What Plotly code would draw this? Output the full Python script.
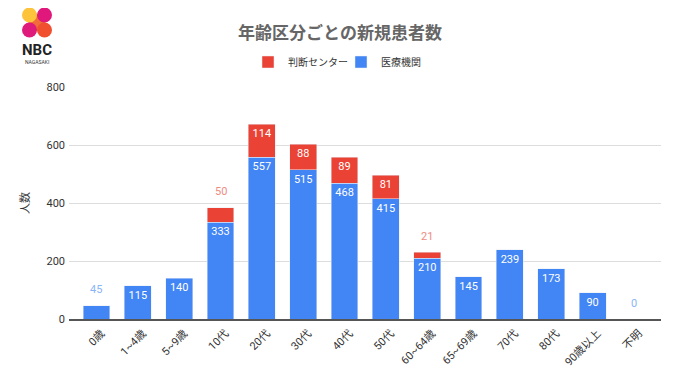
import plotly.graph_objects as go

categories = ["0歳", "1~4歳", "5~9歳", "10代", "20代", "30代", "40代", "50代",
              "60~64歳", "65~69歳", "70代", "80代", "90歳以上", "不明"]
iryo = [45, 115, 140, 333, 557, 515, 468, 415, 210, 145, 239, 173, 90, 0]
handan = [None, None, None, 50, 114, 88, 89, 81, 21, None, None, None, None, None]
y_ticks = [0, 200, 400, 600, 800]

BLUE = "#4285F4"
RED = "#EA4335"
BLUE_LABEL = "#8AB4F8"
RED_LABEL = "#EE8C83"
FONT = "Roboto, Noto Sans CJK JP, sans-serif"
SMALL = 60  # segments below this show their label above the bar

OFF = 8  # page body margin
W, H = 680 - OFF, 382 - OFF
P_LEFT, P_RIGHT, P_TOP, P_BOTTOM = 69, 661, 87, 319  # target page pixels
ML = P_LEFT - OFF
MT = P_TOP - OFF
MR = W - (P_RIGHT - OFF)
MB = H - (P_BOTTOM - OFF)
PW, PH = W - ML - MR, H - MT - MB


def px(x):
    return (x - P_LEFT) / PW


def py(y):
    return (P_BOTTOM - y) / PH


fig = go.Figure()
fig.add_trace(go.Bar(
    x=categories, y=iryo, name="医療機関", marker_color=BLUE,
    text=["" if v < SMALL else str(v) for v in iryo],
    textposition="inside", insidetextanchor="end",
    insidetextfont=dict(color="white", size=11, family=FONT),
    textangle=0, cliponaxis=False,
))
fig.add_trace(go.Bar(
    x=categories, y=handan, name="判断センター", marker_color=RED,
    text=["" if (v is None or v < SMALL) else str(v) for v in handan],
    textposition="inside", insidetextanchor="end",
    insidetextfont=dict(color="white", size=11, family=FONT),
    textangle=0, cliponaxis=False,
))

annotations = []
# small segments: label placed above the stack top
for cat, b, r in zip(categories, iryo, handan):
    if r is not None and r < SMALL:
        annotations.append(dict(x=cat, y=b + r, text=str(r), showarrow=False,
                                yshift=16, yanchor="middle", xref="x", yref="y",
                                font=dict(size=11, color=RED_LABEL, family=FONT)))
    elif r is None and b < SMALL:
        annotations.append(dict(x=cat, y=b, text=str(b), showarrow=False,
                                yshift=16, yanchor="middle", xref="x", yref="y",
                                font=dict(size=11, color=BLUE_LABEL, family=FONT)))

shapes = []


def circle(cx, cy, r, color):
    return dict(type="circle", xref="paper", yref="paper",
                x0=px(cx - r), x1=px(cx + r), y0=py(cy + r), y1=py(cy - r),
                fillcolor=color, line=dict(width=0), layer="above")


shapes.append(dict(type="line", xref="paper", yref="paper",
                   x0=px(29.5), y0=py(15), x1=px(44.5), y1=py(30),
                   line=dict(color="#F26B3A", width=12), layer="above"))
shapes.append(circle(29.5, 15, 7.5, "#FDC33B"))
shapes.append(circle(44.5, 15, 7.5, "#E0187C"))
shapes.append(circle(29.5, 30, 7.5, "#DE1A7A"))
shapes.append(circle(44.5, 30, 7.5, "#F0502D"))

annotations += [
    dict(text="<b>NBC</b>", x=px(37), y=py(50), xref="paper", yref="paper",
         showarrow=False, font=dict(size=15, color="#222", family="Roboto, sans-serif"),
         xanchor="center", yanchor="middle"),
    dict(text="NAGASAKI", x=px(37), y=py(62), xref="paper", yref="paper",
         showarrow=False, font=dict(size=5, color="#333", family="Roboto, sans-serif"),
         xanchor="center", yanchor="middle"),
]

fig.update_layout(
    width=W, height=H,
    margin=dict(l=ML, r=MR, t=MT, b=MB, autoexpand=False),
    barmode="stack", bargap=0.35,
    plot_bgcolor="white", paper_bgcolor="white",
    font=dict(family=FONT, color="#444", size=11),
    title=dict(text="<b>年齢区分ごとの新規患者数</b>", xref="container",
               x=(340 - OFF) / W, y=1 - (33 - OFF) / H,
               yanchor="middle", xanchor="center",
               font=dict(size=17, color="#666", family="Noto Sans CJK JP, sans-serif")),
    legend=dict(orientation="h", x=px(248), y=py(62), xanchor="left", yanchor="middle",
                traceorder="reversed", font=dict(size=10, color="#333"),
                entrywidth=48, entrywidthmode="pixels",
                itemwidth=30, bgcolor="rgba(0,0,0,0)"),
    xaxis=dict(tickangle=-45, tickfont=dict(size=11, color="#333"), automargin=False,
               range=[-0.665, 13.655], ticklabelshift=5, ticklabelstandoff=2,
               showline=True, linecolor="#555", linewidth=1.5, ticks=""),
    yaxis=dict(range=[0, 800], tickvals=y_ticks, ticktext=[str(v) for v in y_ticks],
               gridcolor="#DDDDDD", zeroline=False, showline=False, automargin=False,
               tickfont=dict(size=11, color="#333"), ticklabelstandoff=3,
               title=dict(text="人数", font=dict(size=11, color="#333"), standoff=14)),
    shapes=shapes, annotations=annotations,
)

fig.write_html("out.html")
